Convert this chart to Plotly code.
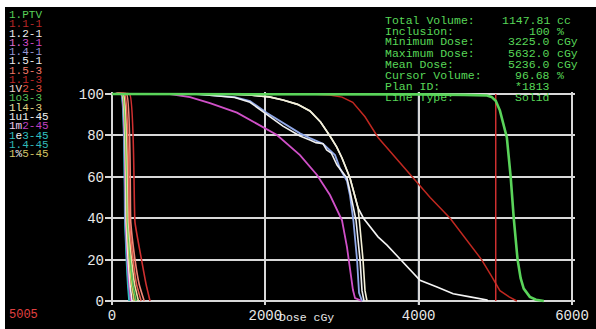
import plotly.graph_objects as go

# ---------------- data ----------------
vol_levels = [100, 100, 38, 20, 8, 0]

ptv_dose = [0, 3225, 4000, 4600, 4890, 4950, 5005, 5060, 5110, 5150, 5200, 5240, 5290, 5330, 5370, 5450, 5530, 5632]
ptv_vol = [100, 100, 99.8, 99.6, 99.3, 98.6, 96.7, 92, 85, 79, 60, 40, 20, 11, 6, 2, 0.6, 0]

r11_dose = [0, 2600, 2840, 3000, 3140, 3300, 3470, 3800, 4150, 4410, 4820, 4950, 5060, 5180, 5280]
r11_vol = [100, 100, 99.5, 98.5, 96, 89, 79, 65, 50, 40, 20, 12, 5, 2, 0]

wA_dose = [0, 1500, 1800, 2050, 2230, 2420, 2582, 2720, 2843, 2930, 3000, 3060, 3104, 3140, 3170, 3209, 3226, 3250, 3274, 3300, 3326]
wA_vol = [100, 100, 99.5, 98.6, 97.1, 95, 91.8, 86.5, 79.7, 74.5, 69.1, 64, 59.4, 54.5, 50, 45, 39, 30, 20, 5, 0]

wB_dose = [0, 1500, 1800, 2050, 2230, 2420, 2582, 2720, 2843, 2930, 3000, 3060, 3104, 3140, 3170, 3209, 3280, 3365, 3470, 3587, 3795, 4017, 4239, 4450, 4670, 4891, 4900]
wB_vol = [100, 100, 99.5, 98.6, 97.1, 95, 91.8, 86.5, 79.7, 74.5, 69.1, 64, 59.4, 54.5, 50, 45, 40, 35.7, 31, 27, 18.8, 10, 6.8, 3.5, 2, 0.5, 0]

blue_dose = [0, 1100, 1600, 1800, 2022, 2230, 2452, 2582, 2752, 2909, 2974, 3065, 3104, 3148, 3196, 3222, 3261]
blue_vol = [100, 100, 98.5, 96.6, 90.8, 86, 81, 78.7, 76, 70.5, 64, 58, 51, 39, 20, 4, 0]

wC_dose = [0, 1100, 1600, 1800, 2230, 2452, 2582, 2660, 2752, 2800, 2860, 2935, 2990, 3065, 3104, 3183, 3235, 3261, 3287]
wC_vol = [100, 100, 98.3, 96, 84.5, 79.7, 77.8, 76.5, 76, 73, 71.5, 65.7, 63, 59.4, 53, 39, 20, 5, 0]

mag_dose = [0, 756, 1017, 1278, 1630, 1800, 2152, 2452, 2674, 2843, 3000, 3065, 3104, 3143, 3170, 3261]
mag_vol = [100, 100, 98.5, 95.6, 91, 87.4, 80.2, 70.5, 60.9, 51.2, 39, 26, 16.4, 5.3, 1.4, 0]

# low-dose organs: doses at vol_levels
low_names = ["1e3-45", "1.4-45", "1m2-45", "1u1-45", "1%5-45", "1o3-3", "1l4-3", "1V2-3", "1.5-3", "1.1-3"]
low_doses = [
    [0, 117, 168, 188, 205, 222],
    [0, 120, 172, 193, 212, 232],
    [0, 124, 177, 200, 222, 245],
    [0, 130, 185, 210, 235, 262],
    [0, 135, 195, 225, 255, 290],
    [0, 140, 205, 238, 272, 315],
    [0, 150, 215, 255, 295, 345],
    [0, 165, 228, 275, 320, 380],
    [0, 190, 245, 300, 355, 420],
    [0, 230, 300, 385, 445, 496],
]
low_colors = ["#2ec4c4", "#38b4bc", "#c848c8", "#f0f0f0", "#d8c860", "#58c858",
              "#e8e0a0", "#e86050", "#f08878", "#d03030"]

cursor_dose = 5005

x_ticks = [0, 2000, 4000, 6000]
y_ticks = [0, 20, 40, 60, 80, 100]

legend_labels = [
    ("1.PTV", [("1.PTV", "#58d058")]),
    ("1.1-1", [("1.1-1", "#b82828")]),
    ("1.2-1", [("1.2-1", "#f0f0f0")]),
    ("1.3-1", [("1.", "#e070d0"), ("3-1", "#d048c8")]),
    ("1.4-1", [("1.4-1", "#9898d8")]),
    ("1.5-1", [("1.5-1", "#f0f0f0")]),
    ("1.5-3", [("1.5-3", "#f07868")]),
    ("1.1-3", [("1.1-3", "#c02828")]),
    ("1V2-3", [("1V", "#f0d8d0"), ("2-3", "#e05040")]),
    ("1o3-3", [("1o3-3", "#58c058")]),
    ("1l4-3", [("1l", "#f0e8b0"), ("4-3", "#e0d080")]),
    ("1u1-45", [("1u1-45", "#f0f0f0")]),
    ("1m2-45", [("1m", "#f0d0f0"), ("2-45", "#c040c0")]),
    ("1e3-45", [("1", "#30c0c0"), ("e", "#f0f0f0"), ("3-45", "#30c0c0")]),
    ("1.4-45", [("1.4-45", "#30b8b8")]),
    ("1%5-45", [("1", "#d8c868"), ("%", "#f0f0f0"), ("5-45", "#d0c060")]),
]

info_labels = ["Total Volume:", "Inclusion:", "Minimum Dose:", "Maximum Dose:",
               "Mean Dose:", "Cursor Volume:", "Plan ID:", "Line Type:"]
info_values = ["1147.81", "100", "3225.0", "5632.0", "5236.0", "96.68", "*1813", "Solid"]
info_units = ["cc", "%", "cGy", "cGy", "cGy", "%", "", ""]

# ---------------- layout helpers ----------------
W, H = 596, 329
L, R, T, B = 105, 21, 92, 24
PW = W - L - R
PH = H - T - B


def pxx(x):
    return (x - L) / PW


def pxy(y):
    return (H - B - y) / PH


MONO = "Liberation Mono, DejaVu Sans Mono, monospace"

fig = go.Figure()

for d, c in zip(low_doses, low_colors):
    fig.add_trace(go.Scatter(x=d, y=vol_levels, mode="lines",
                             line=dict(color=c, width=1.6, shape="spline", smoothing=0.4)))

fig.add_trace(go.Scatter(x=mag_dose, y=mag_vol, mode="lines", line=dict(color="#d050c8", width=1.8)))
fig.add_trace(go.Scatter(x=blue_dose, y=blue_vol, mode="lines", line=dict(color="#90a8e8", width=1.8)))
fig.add_trace(go.Scatter(x=wC_dose, y=wC_vol, mode="lines", line=dict(color="#f0f0f0", width=1.6)))
fig.add_trace(go.Scatter(x=wB_dose, y=wB_vol, mode="lines", line=dict(color="#f4f4f4", width=1.6)))
fig.add_trace(go.Scatter(x=wA_dose, y=wA_vol, mode="lines", line=dict(color="#f4f0d8", width=1.6)))
fig.add_trace(go.Scatter(x=r11_dose, y=r11_vol, mode="lines", line=dict(color="#c02820", width=1.5)))
fig.add_trace(go.Scatter(x=[cursor_dose, cursor_dose], y=[0, 100], mode="lines",
                         line=dict(color="#d03030", width=1.5)))
fig.add_trace(go.Scatter(x=ptv_dose, y=ptv_vol, mode="lines", line=dict(color="#5ad45a", width=2.6)))

annotations = []
for i, (_, parts) in enumerate(legend_labels):
    txt = "".join(f'<span style="color:{c}">{s}</span>' for s, c in parts)
    annotations.append(dict(x=pxx(8), y=pxy(15 + 9.27 * i), xref="paper", yref="paper",
                            text=txt, showarrow=False, xanchor="left", yanchor="middle",
                            font=dict(family=MONO, size=11), borderpad=0))

GREEN = "#58d858"
for i, (lab, val, unit) in enumerate(zip(info_labels, info_values, info_units)):
    yy = pxy(20 + 11 * i)
    annotations.append(dict(x=pxx(384), y=yy, xref="paper", yref="paper", text=lab,
                            showarrow=False, xanchor="left", yanchor="middle",
                            font=dict(family=MONO, size=11.5, color=GREEN), borderpad=0))
    annotations.append(dict(x=pxx(551), y=yy, xref="paper", yref="paper", text=val,
                            showarrow=False, xanchor="right", yanchor="middle",
                            font=dict(family=MONO, size=11.5, color=GREEN), borderpad=0))
    if unit:
        annotations.append(dict(x=pxx(556), y=yy, xref="paper", yref="paper", text=unit,
                                showarrow=False, xanchor="left", yanchor="middle",
                                font=dict(family=MONO, size=11.5, color=GREEN), borderpad=0))

annotations.append(dict(x=pxx(8), y=pxy(315), xref="paper", yref="paper", text=str(cursor_dose),
                        showarrow=False, xanchor="left", yanchor="middle",
                        font=dict(family=MONO, size=12, color="#e04040"), borderpad=0))
annotations.append(dict(x=pxx(278), y=pxy(317), xref="paper", yref="paper", text="Dose cGy",
                        showarrow=False, xanchor="left", yanchor="middle",
                        font=dict(family=MONO, size=11.5, color="#e8e8e8"), borderpad=0))

shapes = [
    dict(type="line", xref="x", yref="paper", x0=4000, x1=4000, y0=0, y1=1,
         line=dict(color="#a8c4ec", width=1.8), layer="below"),
    dict(type="rect", xref="paper", yref="paper", x0=pxx(0), x1=pxx(5), y0=pxy(H), y1=pxy(0),
         fillcolor="white", line=dict(width=0), layer="above"),
    dict(type="rect", xref="paper", yref="paper", x0=pxx(0), x1=pxx(W), y0=pxy(7), y1=pxy(0),
         fillcolor="white", line=dict(width=0), layer="above"),
]

fig.update_layout(
    width=W, height=H,
    margin=dict(l=L, r=R, t=T, b=B, pad=0, autoexpand=False),
    paper_bgcolor="black", plot_bgcolor="black",
    showlegend=False,
    annotations=annotations,
    shapes=shapes,
)
fig.update_xaxes(range=[-91.3, 6039], tickvals=x_ticks, ticktext=[str(v) for v in x_ticks],
                 showgrid=True, gridcolor="#d8d8d8", gridwidth=1.8, zeroline=False, showline=False,
                 automargin=False, ticks="", tickfont=dict(family=MONO, size=14, color="#e8e8e8"),
                 fixedrange=True)
fig.update_yaxes(range=[-1.93, 100.97], tickvals=y_ticks, ticktext=[str(v) for v in y_ticks],
                 showgrid=True, gridcolor="#d8d8d8", gridwidth=1.8, zeroline=False, showline=False,
                 automargin=False, ticks="", tickfont=dict(family=MONO, size=14, color="#e8e8e8"),
                 fixedrange=True)

fig.write_html("out.html", config={"displayModeBar": False},
               post_script="document.body.style.margin='0px';document.body.style.overflow='hidden';")
